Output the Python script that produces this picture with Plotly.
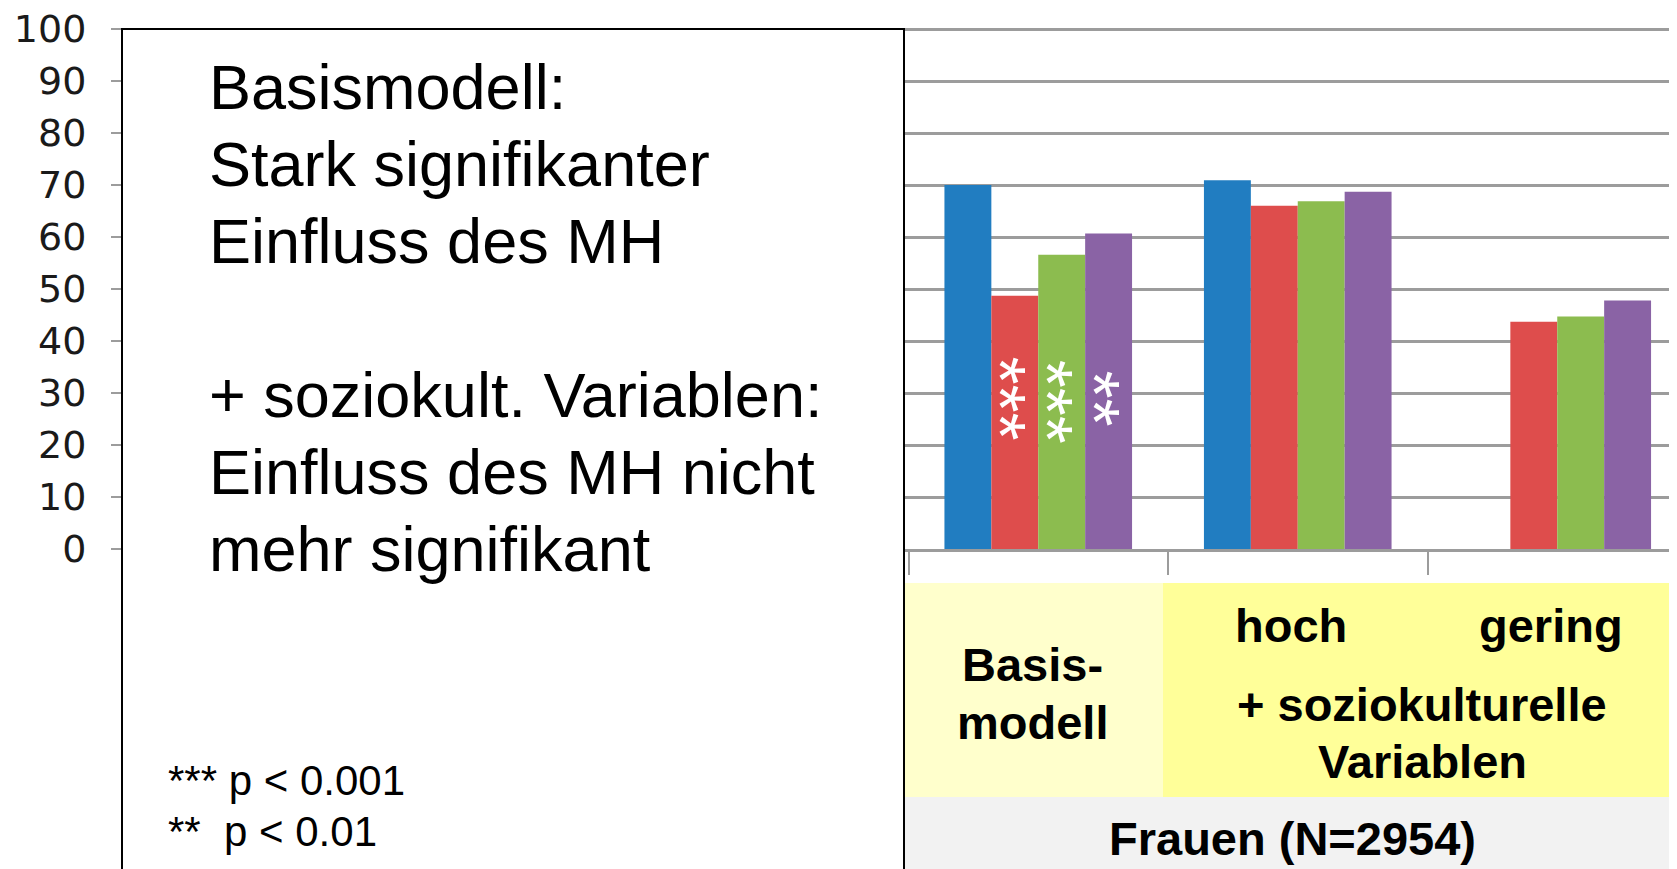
import plotly.graph_objects as go

# ---------------- data ----------------
categories = ["Basismodell", "hoch", "gering"]
series_names = ["Serie 1", "Serie 2", "Serie 3", "Serie 4"]
blue = [70.0, 70.9, None]
red = [48.7, 66.0, 43.7]
green = [56.6, 66.9, 44.7]
purple = [60.7, 68.7, 47.8]
colors = ["#217DC1", "#DE4D4C", "#8CBC4F", "#8A63A5"]

# significance stars (per series, per category)
sig_red = ["***", "", ""]
sig_green = ["***", "", ""]
sig_purple = ["**", "", ""]
sig_center = [29.0, 28.4, 29.0]   # y value of the star column centre for red, green, purple

y_ticks = list(range(0, 101, 10))
y_max = 100.2

box_lines = ["Basismodell:", "Stark signifikanter", "Einfluss des MH", "",
             "+ soziokult. Variablen:", "Einfluss des MH nicht", "mehr signifikant"]
legend_lines = ["*** p < 0.001", "**&nbsp;&nbsp;p < 0.01"]

# ---------------- layout geometry ----------------
OFF = 8                      # page body margin
W, H = 1677, 869             # window size
L, R, T, B = 130, 0, 28, 320 # plot area in window pixels
BARGAP = 0.277
CAT_PX = 259.5
FW, FH = W - OFF, H - OFF
n_visible = (W - L - R) / CAT_PX
x_range = [-3.5, -3.5 + n_visible]
PW, PH = W - L - R, H - T - B


def px(x):
    return (x - L) / PW


def py(y):
    return (H - B - y) / PH


fig = go.Figure()
for name, vals, col in zip(series_names, [blue, red, green, purple], colors):
    fig.add_trace(go.Bar(x=categories, y=vals, name=name, marker=dict(color=col, line=dict(width=0)),
                         hoverinfo="skip"))

# star annotations (vertical column of asterisks inside the bars)
bar_w = (1 - BARGAP) / 4
for si, sig in enumerate([sig_red, sig_green, sig_purple]):
    offset = (si + 1 - 1.5) * bar_w
    for ci, s in enumerate(sig):
        if s:
            fig.add_annotation(x=ci + offset, y=sig_center[si], xref="x", yref="y",
                               text=s, showarrow=False, textangle=90,
                               xshift=-15, font=dict(family="Liberation Sans", size=72, color="white"))

shapes = []
shapes.append(dict(type="rect", xref="paper", yref="paper", x0=px(122), x1=px(904), y0=py(890), y1=py(29),
                   fillcolor="white", line=dict(color="black", width=2), layer="above"))
shapes.append(dict(type="rect", xref="paper", yref="paper", x0=px(905), x1=px(1163), y0=py(797), y1=py(583),
                   fillcolor="#FFFFCC", line=dict(width=0), layer="above"))
shapes.append(dict(type="rect", xref="paper", yref="paper", x0=px(1163), x1=px(1700), y0=py(797), y1=py(583),
                   fillcolor="#FFFF99", line=dict(width=0), layer="above"))
shapes.append(dict(type="rect", xref="paper", yref="paper", x0=px(905), x1=px(1700), y0=py(890), y1=py(797),
                   fillcolor="#F2F2F2", line=dict(width=0), layer="above"))

annotations = []
centers = [87, 164, 241, 318, 395, 472, 549]
for line, cy in zip(box_lines, centers):
    if line:
        annotations.append(dict(x=px(207), y=py(cy), xref="paper", yref="paper", text=line,
                                xanchor="left", yanchor="middle", showarrow=False,
                                font=dict(family="Liberation Sans", size=63, color="black")))
for line, cy in zip(legend_lines, [780, 831]):
    annotations.append(dict(x=px(166), y=py(cy), xref="paper", yref="paper", text=line,
                            xanchor="left", yanchor="middle", showarrow=False,
                            font=dict(family="Liberation Sans", size=42, color="black")))

bold_labels = [("Basis-", 1032, 664), ("modell", 1032, 722), ("hoch", 1291, 626), ("gering", 1551, 626),
               ("+ soziokulturelle", 1422, 704), ("Variablen", 1422, 761), ("Frauen (N=2954)", 1292, 838)]
for txt, cx, cy in bold_labels:
    annotations.append(dict(x=px(cx), y=py(cy), xref="paper", yref="paper", text="<b>" + txt + "</b>",
                            xanchor="center", yanchor="middle", showarrow=False,
                            font=dict(family="Liberation Sans", size=47, color="black")))

fig.update_layout(
    width=FW, height=FH, autosize=False,
    margin=dict(l=L - OFF, r=R, t=T - OFF, b=B, pad=0),
    paper_bgcolor="white", plot_bgcolor="white",
    barmode="group", bargap=BARGAP, bargroupgap=0,
    showlegend=False,
    shapes=shapes,
)
for a in annotations:
    fig.add_annotation(**a)

GRID = "#9C9C9C"
fig.update_xaxes(type="category", range=x_range, showticklabels=False, showgrid=False,
                 showline=True, linecolor=GRID, linewidth=2.5,
                 ticks="outside", tickson="boundaries", ticklen=23, tickcolor=GRID, tickwidth=2,
                 zeroline=False, fixedrange=True)
fig.update_yaxes(range=[0, y_max], tickvals=y_ticks, showgrid=True, gridcolor=GRID, gridwidth=2.5,
                 ticks="outside", ticklen=18, tickcolor=GRID, tickwidth=2,
                 tickfont=dict(family="DejaVu Sans", size=38, color="#1a1a1a"),
                 ticklabelstandoff=17, ticklabeloverflow="allow",
                 zeroline=False, showline=False, fixedrange=True)

fig.write_html("out.html")
